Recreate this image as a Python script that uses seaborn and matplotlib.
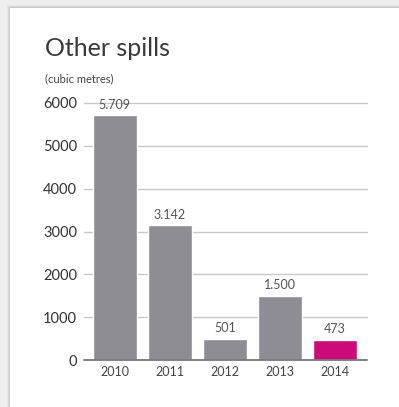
import matplotlib
matplotlib.use("Agg")
import matplotlib.pyplot as plt
from matplotlib.patches import Rectangle
import seaborn as sns
import pandas as pd

years = ["2010", "2011", "2012", "2013", "2014"]
volumes = [5709, 3142, 501, 1500, 473]
value_labels = ["5.709", "3.142", "501", "1.500", "473"]
y_ticks = [0, 1000, 2000, 3000, 4000, 5000, 6000]

GREY = "#8d8d93"
MAGENTA = "#cc0a7a"
bar_colors = [GREY, GREY, GREY, GREY, MAGENTA]

sns.set_theme(style="white")
plt.rcParams["font.family"] = ["Lato", "DejaVu Sans"]

df = pd.DataFrame({"year": years, "volume": volumes})

fig = plt.figure(figsize=(3.99, 4.07), dpi=100)
fig.patch.set_facecolor("#eeeeee")

# white card with a soft shadow on its left edge
for i, a in enumerate([0.03, 0.05, 0.08]):
    fig.patches.append(Rectangle(((7 + i) / 399, 0), 1, 1 - (5 + i) / 407,
                                 transform=fig.transFigure, facecolor="#000000",
                                 alpha=a, edgecolor="none", zorder=0))
fig.patches.append(Rectangle((10 / 399, 0), 1, 1 - 8 / 407,
                             transform=fig.transFigure, facecolor="white",
                             edgecolor="none", zorder=0))

ax = fig.add_axes([84 / 399, 1 - 360 / 407, (367 - 84) / 399, (360 - 103) / 407])
ax.set_zorder(2)
ax.set_facecolor("none")

sns.barplot(data=df, x="year", y="volume", hue="year", palette=bar_colors,
            width=0.8, legend=False, saturation=1, ax=ax, zorder=3)

ax.set_xlim(-0.56, 4.58)
ax.set_ylim(0, 6000)
ax.set_yticks(y_ticks)
ax.set_yticklabels([str(t) for t in y_ticks], fontsize=10.5, color="#333333")
ax.tick_params(axis="x", length=0, pad=4, labelsize=9, labelcolor="#444444")
ax.tick_params(axis="y", length=0, pad=5)
ax.set_xlabel("")
ax.set_ylabel("")

for t in y_ticks[1:]:
    ax.axhline(t, color="#c8c8c8", lw=1.0, zorder=1, clip_on=False)
ax.axhline(0, color="#777777", lw=1.3, zorder=4, clip_on=False)

for sp in ax.spines.values():
    sp.set_visible(False)

for i, (v, lab) in enumerate(zip(volumes, value_labels)):
    ax.text(i, v + 110, lab, ha="center", va="bottom", fontsize=9,
            color="#555555", zorder=5)

fig.text(45 / 399, 1 - 49 / 407, "Other spills", fontsize=18, color="#3a3a3a",
         fontweight="normal", ha="left", va="center", zorder=3)
fig.text(45 / 399, 1 - 79 / 407, "(cubic metres)", fontsize=8, color="#444444",
         ha="left", va="center", zorder=3)

fig.savefig("out.png", dpi=100, facecolor=fig.get_facecolor())
